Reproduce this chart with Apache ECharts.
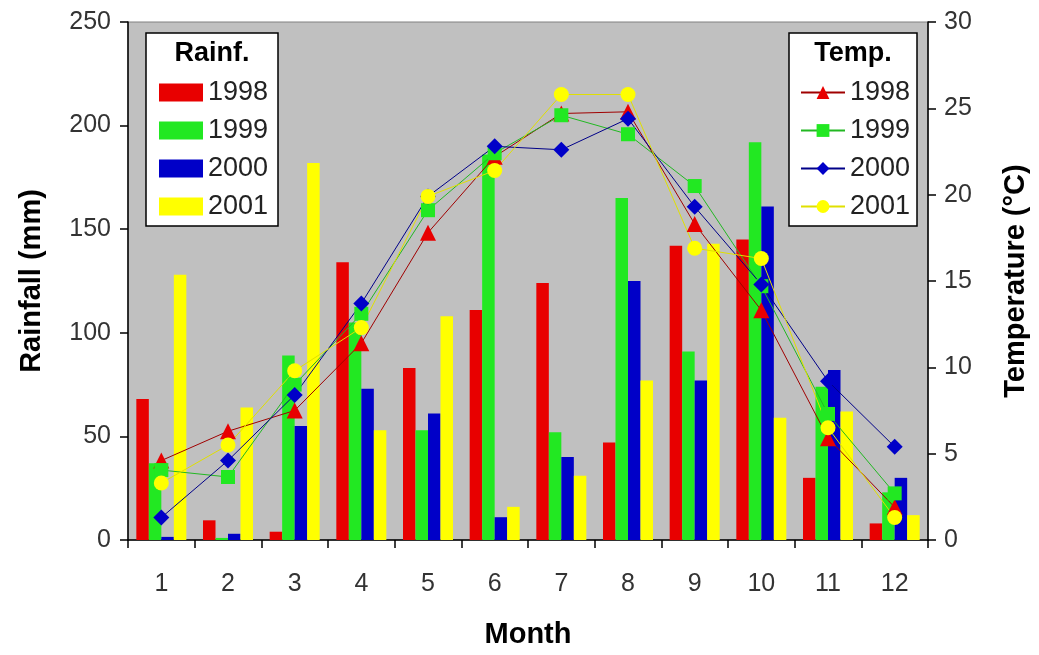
<!DOCTYPE html>
<html>
<head>
<meta charset="utf-8">
<script src="https://cdn.jsdelivr.net/npm/echarts@6/dist/echarts.min.js"></script>
<style>html,body{margin:0;padding:0;background:#fff}#c{width:1039px;height:655px}</style>
</head>
<body>
<div id="c"></div>
<script>
var months = ['1','2','3','4','5','6','7','8','9','10','11','12'];
var years = ['1998','1999','2000','2001'];
var rainTicks = [0, 50, 100, 150, 200, 250];
var tempTicks = [0, 5, 10, 15, 20, 25, 30];

var rain1998 = [68, 9.5, 4, 134, 83, 111, 124, 47, 142, 145, 30, 8];
var rain1999 = [37, 1, 89, 105, 53, 186, 52, 165, 91, 192, 74, 23];
var rain2000 = [1.5, 3, 55, 73, 61, 11, 40, 125, 77, 161, 82, 30];
var rain2001 = [128, 64, 182, 53, 108, 16, 31, 77, 143, 59, 62, 12];

var temp1998 = [4.6, 6.3, 7.5, 11.4, 17.8, 22.2, 24.7, 24.8, 18.3, 13.3, 5.9, 1.9];
var temp1999 = [4.05, 3.65, 9.0, 13.1, 19.1, 22.4, 24.6, 23.5, 20.5, 14.7, 7.3, 2.7];
var temp2000 = [1.3, 4.6, 8.4, 13.7, 19.9, 22.8, 22.6, 24.4, 19.3, 14.8, 9.2, 5.4];
var temp2001 = [3.3, 5.5, 9.8, 12.3, 19.9, 21.4, 25.8, 25.8, 16.9, 16.3, 6.5, 1.3];

var rainData = [rain1998, rain1999, rain2000, rain2001];
var tempData = [temp1998, temp1999, temp2000, temp2001];
var colors = ['#e80000', '#22e822', '#0000c8', '#ffff00'];
var lineColors = ['#a00000', '#22b822', '#000088', '#e0e000'];
var symbols = ['triangle', 'rect', 'diamond', 'circle'];
var symbolSizes = [16, 14, 16, 15];

var FONT = '"Liberation Sans", Arial, sans-serif';

var series = [];
years.forEach(function (y, i) {
  series.push({
    name: 'Rain ' + y, type: 'bar', yAxisIndex: 0,
    data: rainData[i], barGap: '0%', barCategoryGap: '25%',
    itemStyle: { color: colors[i] }, z: 2
  });
});
years.forEach(function (y, i) {
  series.push({
    name: 'Temp ' + y, type: 'line', yAxisIndex: 1,
    data: tempData[i], symbol: symbols[i], symbolSize: symbolSizes[i],
    showAllSymbol: true,
    itemStyle: { color: colors[i] },
    lineStyle: { color: lineColors[i], width: 1 }, z: 3
  });
});

var chart = echarts.init(document.getElementById('c'), null, { renderer: 'canvas' });
chart.setOption({
  animation: false,
  backgroundColor: '#ffffff',
  textStyle: { fontFamily: FONT },
  grid: {
    left: 128, top: 22, right: 111, bottom: 115,
    show: true, backgroundColor: '#c0c0c0', borderColor: '#808080', borderWidth: 1
  },
  xAxis: {
    type: 'category', data: months,
    name: 'Month', nameLocation: 'middle', nameGap: 80,
    nameTextStyle: { fontSize: 29, fontWeight: 'bold', color: '#000', fontFamily: FONT },
    axisLine: { lineStyle: { color: '#000', width: 1.5 } },
    axisTick: { show: true, length: 8, lineStyle: { color: '#000', width: 1.5 } },
    axisLabel: { fontSize: 25, color: '#333', margin: 32, fontFamily: FONT },
    splitLine: { show: false }
  },
  yAxis: [{
    type: 'value', min: 0, max: 250, interval: 50,
    name: 'Rainfall (mm)', nameLocation: 'middle', nameGap: 82, nameRotate: 90,
    nameTextStyle: { fontSize: 29, fontWeight: 'bold', color: '#000', fontFamily: FONT },
    axisLine: { show: true, lineStyle: { color: '#000', width: 1.5 } },
    axisTick: { show: true, length: 8, lineStyle: { color: '#000', width: 1.5 } },
    axisLabel: { fontSize: 25, color: '#333', margin: 17, fontFamily: FONT,
      customValues: rainTicks },
    splitLine: { show: false }
  }, {
    type: 'value', min: 0, max: 30, interval: 5, position: 'right',
    name: 'Temperature (°C)', nameLocation: 'middle', nameGap: 73, nameRotate: 90,
    nameTextStyle: { fontSize: 29, fontWeight: 'bold', color: '#000', fontFamily: FONT },
    axisLine: { show: true, lineStyle: { color: '#000', width: 1.5 } },
    axisTick: { show: true, length: 8, lineStyle: { color: '#000', width: 1.5 } },
    axisLabel: { fontSize: 25, color: '#333', margin: 16, fontFamily: FONT,
      customValues: tempTicks },
    splitLine: { show: false }
  }],
  legend: [{
    data: years.map(function (y) { return { name: 'Rain ' + y, icon: 'rect' }; }),
    orient: 'vertical', left: 154, top: 74, itemWidth: 44, itemHeight: 18, itemGap: 11,
    selectedMode: false, z: 20,
    formatter: function (n) { return n.slice(-4); },
    textStyle: { fontSize: 27, color: '#222', fontFamily: FONT }
  }, {
    data: years.map(function (y) { return 'Temp ' + y; }),
    orient: 'vertical', left: 795, top: 74, itemWidth: 44, itemHeight: 16, itemGap: 11,
    selectedMode: false, z: 20,
    formatter: function (n) { return n.slice(-4); },
    textStyle: { fontSize: 27, color: '#222', fontFamily: FONT }
  }],
  graphic: [
    { type: 'rect', z: 10, shape: { x: 146, y: 33, width: 132, height: 193 },
      style: { fill: '#fff', stroke: '#000', lineWidth: 1.5 } },
    { type: 'text', z: 11, style: { x: 212, y: 54, text: 'Rainf.', align: 'center', verticalAlign: 'middle',
      font: 'bold 27px ' + FONT, fill: '#000' } },
    { type: 'rect', z: 10, shape: { x: 789, y: 33, width: 128, height: 193 },
      style: { fill: '#fff', stroke: '#000', lineWidth: 1.5 } },
    { type: 'text', z: 11, style: { x: 853, y: 54, text: 'Temp.', align: 'center', verticalAlign: 'middle',
      font: 'bold 27px ' + FONT, fill: '#000' } }
  ],
  series: series
});
</script>
</body>
</html>
